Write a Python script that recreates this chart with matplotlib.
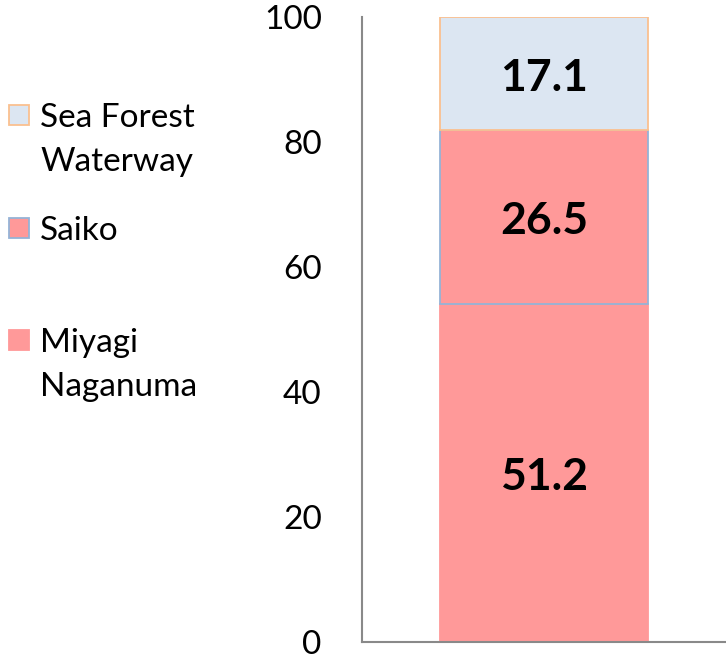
import matplotlib
matplotlib.use("Agg")
import matplotlib.pyplot as plt
from matplotlib.patches import Rectangle
import numpy as np

categories = [""]
series_names = ["Miyagi\nNaganuma", "Saiko", "Sea Forest\nWaterway"]
values = [51.2, 26.5, 17.1]
fill_colors = ["#FF9999", "#FF9999", "#DCE6F2"]
edge_colors = ["#FF9999", "#95B3D7", "#FAC090"]
yticks = [0, 20, 40, 60, 80, 100]

plt.rcParams['font.family'] = ['Lato', 'DejaVu Sans']

fig = plt.figure(figsize=(7.26, 6.59), dpi=100)
ax = fig.add_axes([362/726, 1-642/659, 1-362/726, 625/659])

total = sum(values)
pct = [v / total * 100 for v in values]
bottom = 0
x = np.arange(len(categories))
for v, p, fc, ec in zip(values, pct, fill_colors, edge_colors):
    ax.bar(x, [p], bottom=bottom, width=0.573, color=fc, edgecolor=ec, linewidth=1.3, zorder=2)
    ax.annotate(f"{v:.1f}", (x[0], bottom + p / 2), xytext=(0, -3), textcoords="offset points",
                ha="center", va="center", fontsize=32, fontweight="bold", color="black", zorder=3)
    bottom += p

ax.set_xlim(-0.5, 0.5)
ax.set_ylim(0, 100)
ax.set_yticks(yticks)
ax.set_yticklabels([str(t) for t in yticks], fontsize=24)
ax.tick_params(axis="y", length=0, pad=29)
ax.set_xticks([])
for s in ["top", "right"]:
    ax.spines[s].set_visible(False)
for s in ["left", "bottom"]:
    ax.spines[s].set_color("#898989")
    ax.spines[s].set_linewidth(1.5)

# legend (reversed order), drawn in figure pixel coords
W, H = 726, 659
legend_y = [115, 228, 340]
for i, idx in enumerate(reversed(range(len(series_names)))):
    yc = legend_y[i]
    fig.patches.append(Rectangle((9 / W, 1 - (yc + 10) / H), 20 / W, 20 / H,
                                 transform=fig.transFigure, facecolor=fill_colors[idx],
                                 edgecolor=edge_colors[idx], linewidth=1.3))
    fig.text(40 / W, 1 - (yc - 12) / H, series_names[idx], ha="left", va="top",
             fontsize=24, linespacing=1.6, color="black")

fig.savefig("out.png", dpi=100)
